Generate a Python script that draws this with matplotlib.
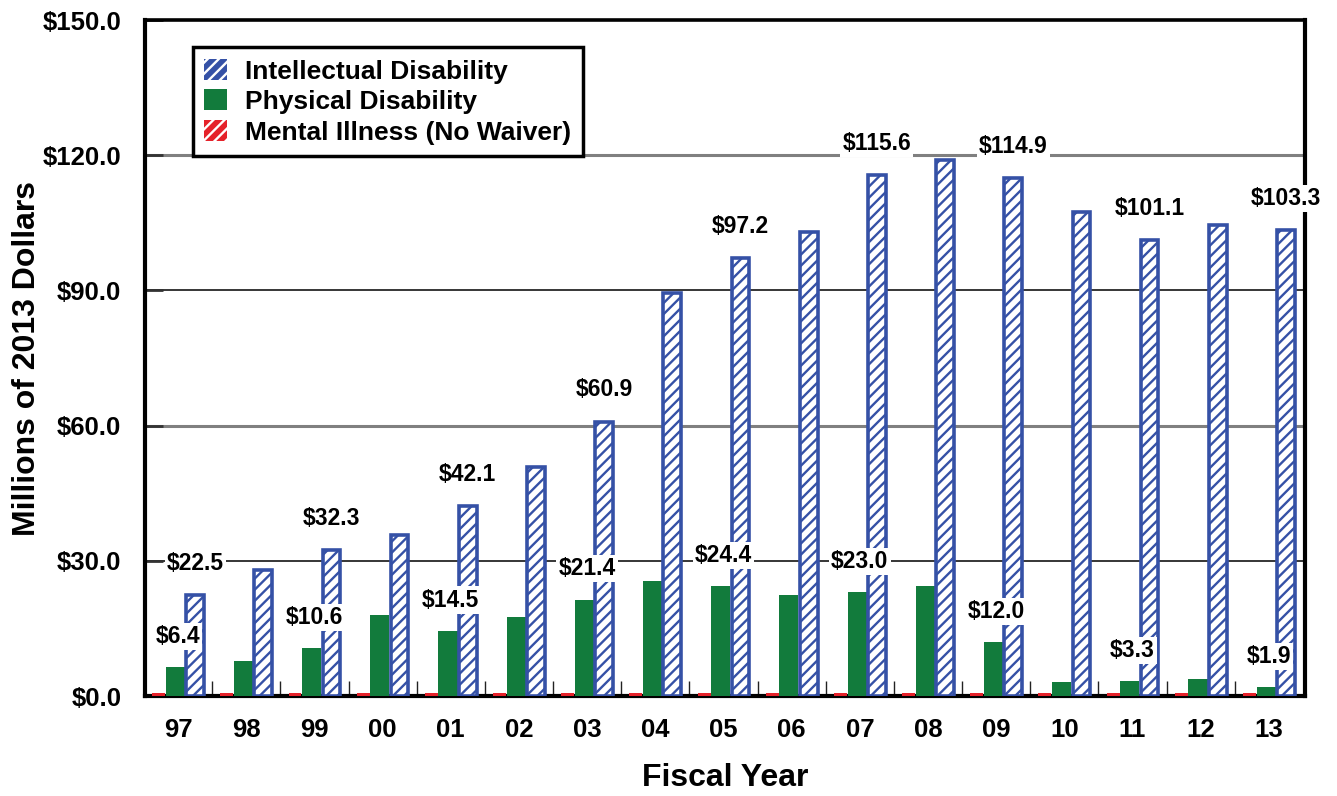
import numpy as np
import matplotlib
matplotlib.use('Agg')
import matplotlib.pyplot as plt
import matplotlib.patches as mpatches

plt.rcParams['font.family'] = ['Liberation Sans', 'DejaVu Sans']
plt.rcParams['font.weight'] = 'bold'
plt.rcParams['hatch.linewidth'] = 1.7

# fiscal years and spending (millions of 2013 dollars)
years = ['97', '98', '99', '00', '01', '02', '03', '04', '05',
         '06', '07', '08', '09', '10', '11', '12', '13']
intellectual = [22.5, 27.9, 32.3, 35.7, 42.1, 50.8, 60.9, 89.4, 97.2,
                103.0, 115.6, 118.9, 114.9, 107.4, 101.1, 104.5, 103.3]
physical = [6.4, 7.8, 10.6, 18.0, 14.5, 17.5, 21.4, 25.5, 24.4,
            22.5, 23.0, 24.5, 12.0, 3.0, 3.3, 3.8, 1.9]
mental = [0.6] * 17
# which years get a value label
labelled = [True, False] * 8 + [True]

yticks = [0, 30, 60, 90, 120, 150]

blue = '#3551A6'
green = '#127B3C'
red = '#E5222A'

x = np.arange(len(years))

fig = plt.figure(figsize=(13.37, 7.96), dpi=100)
ax = fig.add_axes([145/1337, 1 - 696/796, 1160/1337, 676/796])

ax.bar(x - 0.285, mental, width=0.19, color=red, linewidth=0, zorder=3)
ax.bar(x - 0.04, physical, width=0.28, color=green, linewidth=0, zorder=3)
ax.bar(x + 0.25, intellectual, width=0.26, facecolor='white',
       edgecolor=blue, linewidth=2.6, hatch='///', zorder=3)

# grid lines
for i, t in enumerate(yticks[1:-1]):
    if i % 2 == 0:
        ax.axhline(t, color='black', linewidth=1.1, zorder=1)
    else:
        ax.axhline(t, color='#808080', linewidth=2.2, zorder=1)

# value labels
for i in range(len(years)):
    if labelled[i]:
        ax.text(x[i] + 0.25, intellectual[i] + 7, '$%.1f' % intellectual[i],
                ha='center', va='center', fontsize=16.5, fontweight='bold',
                bbox=dict(facecolor='white', edgecolor='none', pad=1.5), zorder=5)
        ax.text(x[i], physical[i] + 6.8, '$%.1f' % physical[i],
                ha='center', va='center', fontsize=16.5, fontweight='bold',
                bbox=dict(facecolor='white', edgecolor='none', pad=1.5), zorder=5)

ax.set_xlim(-0.485, len(years) - 0.47)
ax.set_ylim(0, 150)
ax.set_yticks(yticks)
ax.set_yticklabels(['$%.1f' % t for t in yticks], fontsize=18.5, fontweight='bold')
ax.set_xticks(x)
ax.set_xticklabels(years, fontsize=18.5, fontweight='bold')
ax.set_xticks(x[:-1] + 0.5, minor=True)
ax.tick_params(axis='x', which='major', length=0, pad=16)
ax.tick_params(axis='x', which='minor', direction='in', length=11, width=1, color='#222222')
ax.tick_params(axis='y', direction='in', length=13, width=2, color='#333333', pad=17)

for side, lw in [('left', 3), ('right', 3), ('top', 2.6), ('bottom', 3)]:
    ax.spines[side].set_linewidth(lw)
    ax.spines[side].set_color('black')

fig.text(27/1337, 0.549, 'Millions of 2013 Dollars', rotation=90, ha='center',
         va='center', fontsize=23, fontweight='bold')
fig.text(725/1337, 1 - 778/796, 'Fiscal Year', ha='center', va='center',
         fontsize=23, fontweight='bold')

handles = [
    mpatches.Patch(facecolor=blue, edgecolor='white', hatch='///', linewidth=0,
                   label='Intellectual Disability'),
    mpatches.Patch(facecolor=green, linewidth=0, label='Physical Disability'),
    mpatches.Patch(facecolor=red, edgecolor='white', hatch='///', linewidth=0,
                   label='Mental Illness (No Waiver)'),
]
leg = ax.legend(handles=handles, loc='upper left',
                bbox_to_anchor=(0.041, 0.96), borderaxespad=0, fancybox=False,
                edgecolor='black', framealpha=1, fontsize=19, handlelength=0.85,
                handleheight=0.85, labelspacing=0.22, handletextpad=0.7,
                borderpad=0.45)
leg.get_frame().set_linewidth(2.5)
leg.set_zorder(6)

plt.savefig('out.png', dpi=100)
